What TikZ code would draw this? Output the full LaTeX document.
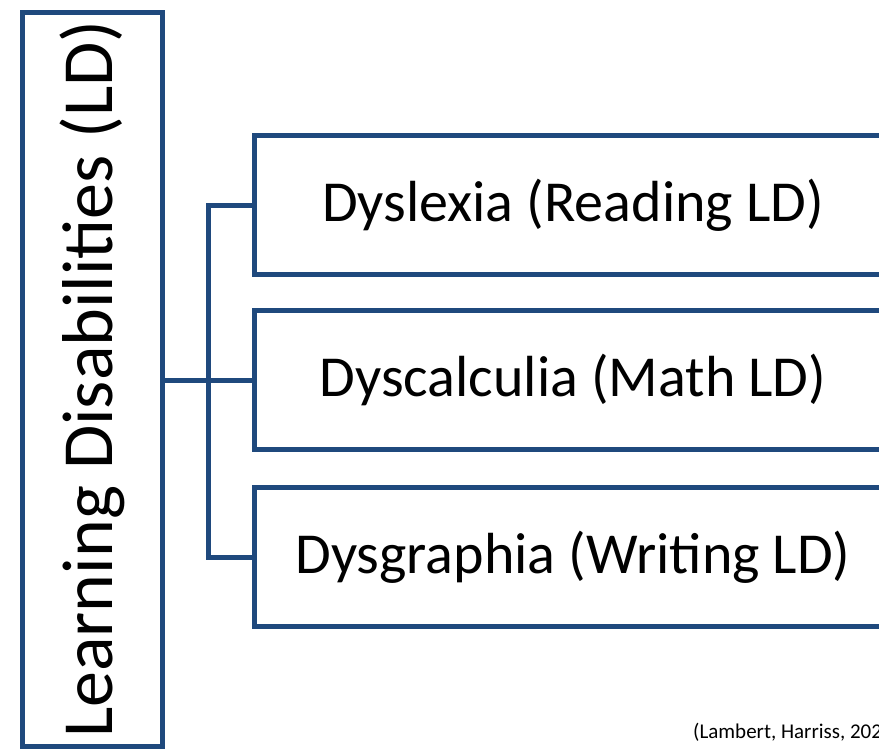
\documentclass[tikz,border=0pt]{standalone}
\usepackage{fontspec}
\setmainfont{Carlito}
\usetikzlibrary{positioning}
\definecolor{ldblue}{HTML}{1F497D}
\tikzstyle{ldbox}=[draw=ldblue,line width=5pt,inner sep=0pt,minimum width=734pt,minimum height=140pt,rotate=90,font=\fontsize{72}{76}\selectfont]
\tikzstyle{typebox}=[draw=ldblue,line width=5pt,inner sep=0pt,minimum width=638pt,minimum height=139pt,font=\fontsize{58}{62}\selectfont]
\tikzstyle{link}=[draw=ldblue,line width=5pt]
\tikzstyle{cite}=[font=\fontsize{21}{24}\selectfont,inner sep=0pt,anchor=base west]

\begin{document}
\begin{tikzpicture}[x=1pt,y=-1pt]
    \useasboundingbox (0,0) rectangle (879,750);
    \node[ldbox] (ld) at (92,379) {Learning Disabilities (LD)};
    \foreach \y/\name/\lbl in {205/dx/Dyslexia (Reading LD), 380/dc/Dyscalculia (Math LD), 557/dg/Dysgraphia (Writing LD)}
        \node[typebox] (\name) at (573,\y) {\lbl};
    \coordinate (fork) at (208,380);
    \path[link] (dc.west -| ld.south) -- (dc.west);
    \path[link] (dx.west) -| (fork) |- (dg.west);
    \node[cite] (src) at (693,738) {(Lambert, Harriss, 202};
\end{tikzpicture}
\end{document}
